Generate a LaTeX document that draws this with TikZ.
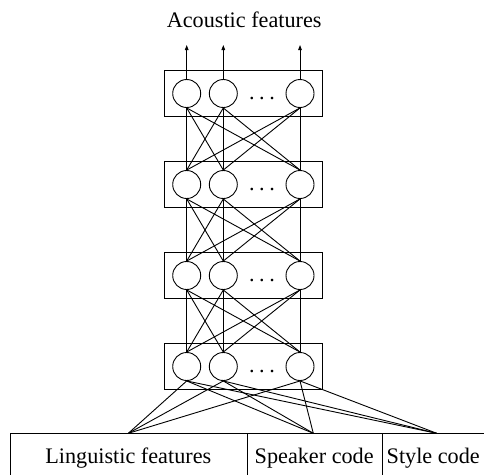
\documentclass[tikz,border=0pt]{standalone}
\usepackage{fontspec}
\setmainfont{Liberation Serif}
\usetikzlibrary{arrows.meta}
\begin{document}
\begin{tikzpicture}[x=1pt,y=-1pt,line width=0.9pt,
  neuron/.style={circle,draw,minimum size=28pt,inner sep=0pt},
  layerbox/.style={draw,minimum width=158.7pt,minimum height=45.5pt,inner sep=0pt},
  cell/.style={draw,anchor=north west,minimum height=60pt,inner sep=0pt},
  lbl/.style={font=\fontsize{22.2}{26}\selectfont,anchor=base,inner sep=0pt},
  dotsl/.style={font=\fontsize{22.2}{26}\selectfont,anchor=base,inner sep=0pt},
  outarrow/.style={-{Triangle[length=5pt,width=3.6pt]}}]
\useasboundingbox (0,0) rectangle (484,474);
% title
\node[lbl] (title) at (244.2,27) {Acoustic features};
% layers
\foreach \k/\y in {1/93.5,2/184.5,3/275.5,4/366.5}{
  \node[layerbox] (box\k) at (243.35,\y) {};
  \node[neuron] (L\k A) at (186.7,\y) {};
  \node[neuron] (L\k B) at (223.3,\y) {};
  \node[neuron] (L\k C) at (300,\y) {};
  \node[dotsl] (dots\k) at (262,{\y+6}) {.\hspace{4.5pt}.\hspace{4.5pt}.};
}
% connections between layers
\foreach \k/\m in {1/2,2/3,3/4}{
  \foreach \i in {A,B,C}{
    \foreach \j in {A,B,C}{
      \draw (L\k\i.south) -- (L\m\j.north);
    }
  }
}
% output arrows
\foreach \i in {A,B,C}{
  \coordinate (out\i) at (L1\i |- 0,45);
  \draw[outarrow] (L1\i.north) -- (out\i);
}
% input cells
\node[cell,minimum width=236.7pt] (lingcell) at (10,433.3) {};
\node[cell,minimum width=135pt] (spkcell) at (246.7,433.3) {};
\node[cell,minimum width=110pt] (stycell) at (381.7,433.3) {};
\node[lbl] (lingtxt) at (128.3,463.3) {Linguistic features};
\node[lbl] (spktxt) at (314.2,463.3) {Speaker code};
\node[lbl] (stytxt) at (433.2,463.3) {Style code};
\coordinate (ling) at (128.3,433.3);
\coordinate (spk) at (313.3,433.3);
\coordinate (sty) at (436.7,433.3);
\foreach \i in {A,B,C}{
  \foreach \t in {ling,spk,sty}{
    \draw (L4\i.south) -- (\t);
  }
}
\end{tikzpicture}
\end{document}
